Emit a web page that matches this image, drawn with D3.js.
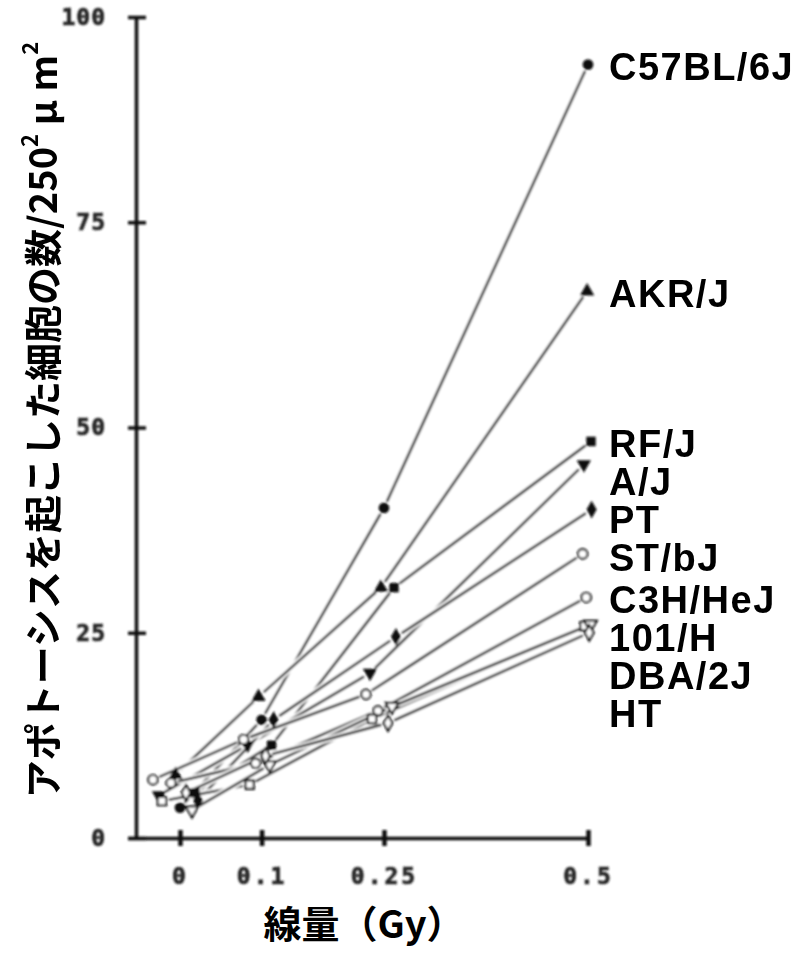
<!DOCTYPE html>
<html>
<head>
<meta charset="utf-8">
<script src="https://cdn.jsdelivr.net/npm/d3@7/dist/d3.min.js"></script>
<style>
  body { margin: 0; background: #fff; }
  svg { display: block; }
</style>
</head>
<body>
<svg id="chart" width="802" height="954"></svg>
<script>
// Radiation dose (Gy) and axis ticks
const doses = [0, 0.1, 0.25, 0.5];
const doseLabels = ["0", "0.1", "0.25", "0.5"];
const yTicks = [0, 25, 50, 75, 100];

// Strains, top to bottom at 0.5 Gy
const strains = ["C57BL/6J", "AKR/J", "RF/J", "A/J", "PT", "ST/bJ", "C3H/HeJ", "101/H", "DBA/2J", "HT"];

// Apoptotic cells per 250² μm², at each dose
const c57bl6j = [3.7, 14.4, 40.2, 94.2];
const akrj    = [7.7, 17.2, 30.5, 66.6];
const rfj     = [5.5, 11.3, 30.5, 48.3];
const aj      = [5.2, 11.3, 20.1, 45.5];
const pt      = [4.6, 14.4, 24.5, 40.0];
const stbj    = [7.1, 12.0, 17.5, 34.6];
const c3hhej  = [6.7, 9.1, 15.5, 29.3];
const h101    = [4.5, 6.5, 14.5, 25.8];
const dba2j   = [3.4, 8.9, 16.0, 26.0];
const ht      = [5.5, 10.0, 14.0, 25.0];

const seriesValues = [c57bl6j, akrj, rfj, aj, pt, stbj, c3hhej, h101, dba2j, ht];

// ---- drawing ----
const svg = d3.select("#chart");

// Marker shapes per strain: [symbol, filled, rotation]
const markerStyle = [
  [d3.symbolCircle, true, 0],
  [d3.symbolTriangle, true, 0],
  [d3.symbolSquare, true, 0],
  [d3.symbolTriangle, true, 180],
  [d3.symbolDiamond, true, 0],
  [d3.symbolCircle, false, 0],
  [d3.symbolCircle, false, 0],
  [d3.symbolSquare, false, 0],
  [d3.symbolTriangle, false, 180],
  [d3.symbolDiamond, false, 0]
];
// horizontal dodge (px) so overlapping strains stay visible
const dodge = [0, -3, 10, -14, 12, -18, -6, -12, 8, 4];
const dodgeScale = [1.5, 1, 1, 0.3];

const x = d3.scaleLinear().domain([-0.0637, 0.5]).range([128, 588]);
const y = d3.scaleLinear().domain([0, 100]).range([838, 17]);

const defs = svg.append("defs");
defs.append("filter").attr("id", "soft")
  .attr("x", "-10%").attr("y", "-10%").attr("width", "120%").attr("height", "120%")
  .append("feGaussianBlur").attr("stdDeviation", 0.8);

const plot = svg.append("g").attr("filter", "url(#soft)");

const tickFont = "'DejaVu Sans Mono', monospace";

// Y axis
const yAxis = plot.append("g")
  .attr("transform", "translate(136,0)")
  .call(d3.axisLeft(y).tickValues(yTicks).tickSize(8).tickSizeOuter(0).tickPadding(22));
yAxis.select(".domain").attr("stroke", "#111").attr("stroke-width", 3.5);
yAxis.selectAll(".tick line").attr("x1", 10).attr("x2", -8)
  .attr("stroke", "#111").attr("stroke-width", 3.5);
yAxis.selectAll(".tick text")
  .attr("font-family", tickFont)
  .attr("font-weight", "bold").attr("font-size", 23).attr("fill", "#222")
  .attr("stroke", "#222").attr("stroke-width", 0.7)
  .attr("letter-spacing", 1);

// X axis
const xAxis = plot.append("g")
  .attr("transform", "translate(0,838)")
  .call(d3.axisBottom(x).tickValues(doses).tickFormat((d, i) => doseLabels[i])
    .tickSize(8).tickSizeOuter(0).tickPadding(22));
xAxis.select(".domain").attr("stroke", "#111").attr("stroke-width", 3.5);
xAxis.selectAll(".tick line").attr("y1", -8).attr("y2", 8)
  .attr("stroke", "#111").attr("stroke-width", 4.5);
xAxis.selectAll(".tick text")
  .attr("font-family", tickFont)
  .attr("font-weight", "bold").attr("font-size", 23).attr("fill", "#222")
  .attr("stroke", "#222").attr("stroke-width", 0.7)
  .attr("letter-spacing", 3);

// Point positions for each strain
const pts = seriesValues.map((vals, s) =>
  vals.map((v, i) => [x(doses[i]) + dodge[s] * dodgeScale[i], y(v)]));

// Connecting lines, cut short near markers, with white casing
const gap = 7;
const lines = plot.append("g");
pts.forEach((p) => {
  const g = lines.append("g");
  for (let i = 0; i < p.length - 1; i++) {
    const [x0, y0] = p[i], [x1, y1] = p[i + 1];
    const len = Math.hypot(x1 - x0, y1 - y0);
    const ux = (x1 - x0) / len, uy = (y1 - y0) / len;
    const seg = [[x0 + ux * gap, y0 + uy * gap], [x1 - ux * gap, y1 - uy * gap]];
    g.append("path").attr("d", d3.line()(seg))
      .attr("stroke", "#fff").attr("stroke-width", 6.5).attr("fill", "none");
    g.append("path").attr("d", d3.line()(seg))
      .attr("stroke", "#2a2a2a").attr("stroke-width", 2.6).attr("fill", "none");
  }
});

// Markers
const markers = plot.append("g");
pts.forEach((p, s) => {
  const [sym, filled, rot] = markerStyle[s];
  const size = filled ? 90 : 70;
  p.forEach(([px, py]) => {
    markers.append("path")
      .attr("d", d3.symbol(sym, size)())
      .attr("transform", `translate(${px},${py}) rotate(${rot})`)
      .attr("fill", filled ? "#111" : "#fff")
      .attr("stroke", "#111")
      .attr("stroke-width", filled ? 0 : 2.2);
  });
});

// Strain labels at the right, pushed apart where they would overlap
const labelFont = "'Liberation Sans', Arial, sans-serif";
let prev = -Infinity;
const labelY = seriesValues.map(vals => {
  const yy = Math.max(y(vals[vals.length - 1]) + 2, prev + 38);
  prev = yy;
  return yy;
});
svg.append("g").selectAll("text").data(strains).join("text")
  .attr("x", 609)
  .attr("y", (d, i) => labelY[i])
  .attr("dy", "0.36em")
  .attr("font-family", labelFont)
  .attr("font-weight", "bold")
  .attr("font-size", 38)
  .attr("letter-spacing", 1.5)
  .attr("fill", "#000")
  .text(d => d);

// Axis titles
const jp = "'Noto Sans CJK JP', sans-serif";
const yTitle = svg.append("text")
  .attr("transform", "translate(40,420) rotate(-90)")
  .attr("text-anchor", "middle")
  .attr("dominant-baseline", "central")
  .attr("font-family", jp).attr("font-weight", "bold").attr("font-size", 38)
  .attr("fill", "#000");
yTitle.append("tspan").text("アポトーシスを起こした細胞の数/250");
yTitle.append("tspan").attr("dy", -12).attr("font-size", 22).text("2");
yTitle.append("tspan").attr("dy", 12).text(" μ m");
yTitle.append("tspan").attr("dy", -12).attr("font-size", 22).text("2");

svg.append("text")
  .attr("x", 364).attr("y", 938)
  .attr("text-anchor", "middle")
  .attr("font-family", jp).attr("font-weight", "bold").attr("font-size", 38)
  .attr("fill", "#000")
  .text("線量（Gy）");
</script>
</body>
</html>
